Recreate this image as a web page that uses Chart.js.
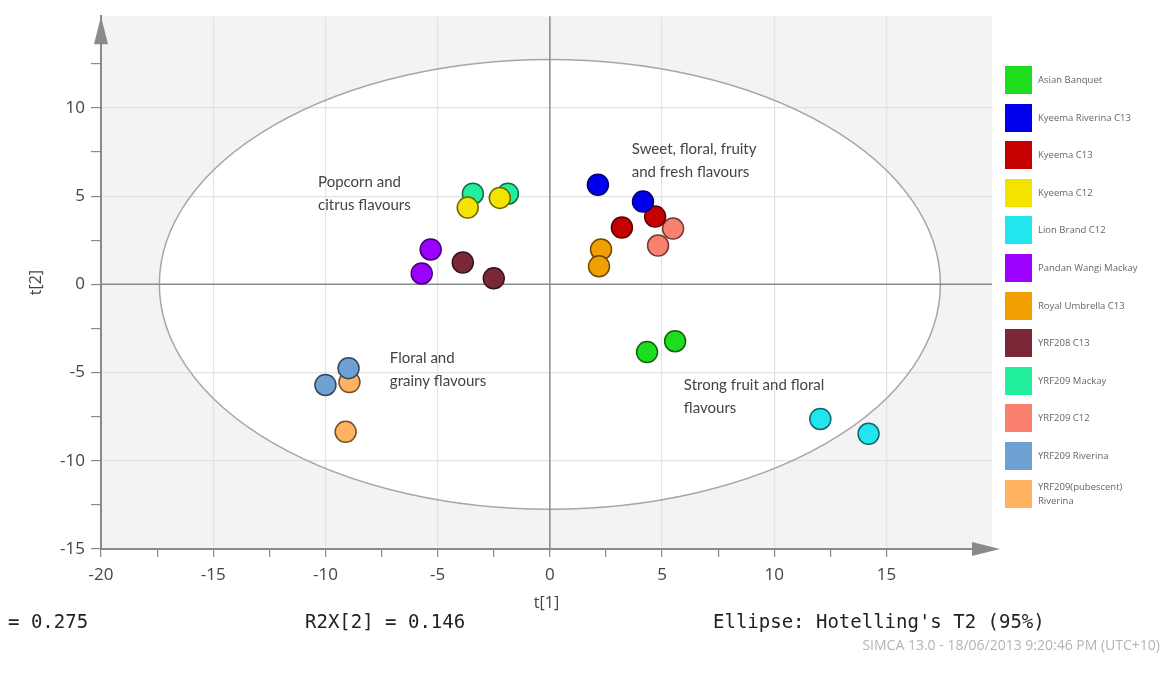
<!DOCTYPE html>
<html>
<head>
<meta charset="utf-8">
<script src="https://cdn.jsdelivr.net/npm/chart.js@4.4.1/dist/chart.umd.min.js"></script>
<style>
  body { margin: 0; background: #fff; }
  #wrap { position: relative; width: 1163px; height: 673px; overflow: hidden; }
  #scoreChart { position: absolute; left: 0; top: 0; }
  .foot { position: absolute; font-family: "DejaVu Sans Mono", monospace; font-size: 19px; line-height: 19px; color: #222; white-space: pre; }
  .stamp { position: absolute; right: 3px; top: 637px; font-family: "Open Sans", sans-serif; font-size: 14px; line-height: 16px; color: #b4b4b4; white-space: pre; }
  #legend { position: absolute; left: 1005px; top: 66px; }
  .item { position: absolute; left: 0; width: 160px; height: 28px; }
  .swatch { position: absolute; left: 0; top: 0; width: 27px; height: 28px; }
  .label { position: absolute; left: 33px; top: 0; height: 28px; display: flex; align-items: center;
           font-family: "Open Sans", sans-serif; font-size: 9.5px; line-height: 14px; color: #666; }
</style>
</head>
<body>
<div id="wrap">
  <canvas id="scoreChart" width="1163" height="673"></canvas>
  <div id="legend"></div>
  <div class="foot" style="left:8px; top:612px;">= 0.275</div>
  <div class="foot" style="left:305px; top:612px;">R2X[2] = 0.146</div>
  <div class="foot" style="left:713px; top:612px;">Ellipse: Hotelling's T2 (95%)</div>
  <div class="stamp">SIMCA 13.0 - 18/06/2013 9:20:46 PM (UTC+10)</div>
</div>
<script>
// score plot data: t[1] / t[2] per sample group
const groups = ['Asian Banquet', 'Kyeema Riverina C13', 'Kyeema C13', 'Kyeema C12', 'Lion Brand C12',
  'Pandan Wangi Mackay', 'Royal Umbrella C13', 'YRF208 C13', 'YRF209 Mackay', 'YRF209 C12',
  'YRF209 Riverina', 'YRF209(pubescent) Riverina'];
const t1Values = [
  [4.33, 5.58], [2.14, 4.15], [3.21, 4.69], [-3.66, -2.23], [12.05, 14.2],
  [-5.31, -5.71], [2.28, 2.19], [-3.88, -2.5], [-3.43, -1.87], [5.49, 4.82],
  [-8.97, -10.0], [-8.93, -9.1]
];
const t2Values = [
  [-3.84, -3.22], [5.65, 4.69], [3.22, 3.84], [4.35, 4.9], [-7.63, -8.47],
  [1.98, 0.62], [1.98, 1.02], [1.24, 0.34], [5.14, 5.14], [3.16, 2.2],
  [-4.75, -5.7], [-5.54, -8.36]
];
const groupColors = ['#1edc1e', '#0000ee', '#c40000', '#f2e400', '#22e6ef', '#9c00ff',
  '#f0a000', '#7a2838', '#22ef9c', '#fa8070', '#6fa2d2', '#ffb262'];

// axis ranges and the 95% Hotelling ellipse (semi axes in t units)
const t1Range = [-20, 19.7];
const t2Range = [-15, 15.2];
const ellipseT1 = 17.4;
const ellipseT2 = 12.75;

// annotation texts, anchored at their top-left line in t units
const noteLines = [
  ['Popcorn and', 'citrus flavours'],
  ['Sweet, floral, fruity', 'and fresh flavours'],
  ['Floral and', 'grainy flavours'],
  ['Strong fruit and floral', 'flavours']
];
const noteT1 = [-10.33, 3.65, -7.13, 5.97];
const noteT2 = [5.8, 7.65, -4.18, -5.7];

function shade(hex, f) {
  const n = parseInt(hex.slice(1), 16);
  const r = Math.round(((n >> 16) & 255) * f);
  const g = Math.round(((n >> 8) & 255) * f);
  const b = Math.round((n & 255) * f);
  return `rgb(${r},${g},${b})`;
}

// build the html legend
const legend = document.getElementById('legend');
groups.forEach((name, i) => {
  const item = document.createElement('div');
  item.className = 'item';
  item.style.top = (i * 37.6) + 'px';
  const label = name === 'YRF209(pubescent) Riverina' ? 'YRF209(pubescent)<br>Riverina' : name;
  item.innerHTML = `<div class="swatch" style="background:${groupColors[i]}"></div><div class="label">${label}</div>`;
  legend.appendChild(item);
});

const plotDecor = {
  id: 'plotDecor',
  beforeDraw(chart) {
    const { ctx, chartArea: a, scales: { x, y } } = chart;
    ctx.save();
    ctx.fillStyle = '#f3f3f3';
    ctx.fillRect(a.left, a.top, a.right - a.left, a.bottom - a.top);
    const cx = x.getPixelForValue(0), cy = y.getPixelForValue(0);
    ctx.beginPath();
    ctx.ellipse(cx, cy, x.getPixelForValue(ellipseT1) - cx, cy - y.getPixelForValue(ellipseT2), 0, 0, Math.PI * 2);
    ctx.fillStyle = '#ffffff';
    ctx.fill();
    ctx.restore();
  },
  beforeDatasetsDraw(chart) {
    const { ctx, chartArea: a, scales: { x, y } } = chart;
    const cx = x.getPixelForValue(0), cy = y.getPixelForValue(0);
    ctx.save();
    // ellipse outline
    ctx.beginPath();
    ctx.ellipse(cx, cy, x.getPixelForValue(ellipseT1) - cx, cy - y.getPixelForValue(ellipseT2), 0, 0, Math.PI * 2);
    ctx.strokeStyle = '#a6a6a6';
    ctx.lineWidth = 1.5;
    ctx.stroke();
    // zero lines
    ctx.strokeStyle = '#8a8a8a';
    ctx.lineWidth = 1.5;
    ctx.beginPath();
    ctx.moveTo(a.left, cy); ctx.lineTo(a.right, cy);
    ctx.moveTo(cx, a.top); ctx.lineTo(cx, a.bottom);
    ctx.stroke();
    // axis arrows
    ctx.fillStyle = '#8a8a8a';
    ctx.beginPath();
    ctx.moveTo(a.left, a.top); ctx.lineTo(a.left - 7, a.top + 28); ctx.lineTo(a.left + 7, a.top + 28);
    ctx.closePath(); ctx.fill();
    ctx.beginPath();
    ctx.moveTo(a.right + 8, a.bottom); ctx.lineTo(a.right - 20, a.bottom - 7); ctx.lineTo(a.right - 20, a.bottom + 7);
    ctx.closePath(); ctx.fill();
    ctx.restore();
  },
  afterDatasetsDraw(chart) {
    const { ctx, scales: { x, y } } = chart;
    ctx.save();
    ctx.font = '15px Lato, "Open Sans", sans-serif';
    ctx.fillStyle = '#444';
    ctx.textBaseline = 'middle';
    noteLines.forEach((lines, i) => {
      const px = x.getPixelForValue(noteT1[i]);
      const py = y.getPixelForValue(noteT2[i]);
      lines.forEach((line, k) => ctx.fillText(line, px, py + k * 23));
    });
    ctx.restore();
  }
};

function keepSteps(limit) {
  return scale => {
    scale.ticks = scale.ticks.filter(t => Math.abs(t.value / 2.5 - Math.round(t.value / 2.5)) < 1e-6 && t.value <= limit);
  };
}
const gridColor = c => (c.tick && c.tick.value % 5 === 0 && c.tick.value !== 0) ? '#e2e2e2' : 'rgba(0,0,0,0)';
const tickFont = { family: '"Open Sans", sans-serif', size: 17 };

new Chart(document.getElementById('scoreChart'), {
  type: 'scatter',
  data: {
    datasets: groups.map((name, i) => ({
      label: name,
      data: t1Values[i].map((v, k) => ({ x: v, y: t2Values[i][k] })),
      backgroundColor: groupColors[i],
      borderColor: shade(groupColors[i], 0.45),
      borderWidth: 1.5,
      pointRadius: 10.5,
      pointHoverRadius: 10.5
    }))
  },
  options: {
    responsive: false,
    animation: false,
    layout: { padding: { top: 14, right: 171, left: 0, bottom: 0 } },
    plugins: { legend: { display: false }, tooltip: { enabled: false } },
    scales: {
      x: {
        type: 'linear',
        min: t1Range[0],
        max: t1Range[1],
        afterFit: s => { s.height = 124; },
        afterBuildTicks: keepSteps(17.5),
        border: { color: '#8a8a8a', width: 2 },
        grid: { color: gridColor, tickColor: '#8a8a8a', tickLength: 8, lineWidth: 1.2 },
        ticks: { stepSize: 2.5, autoSkip: false, maxRotation: 0, padding: 8, color: '#444', font: tickFont,
                 callback: v => (v % 5 === 0 ? v : '') },
        title: { display: true, text: 't[1]', color: '#444', font: { family: '"Open Sans", sans-serif', size: 16 },
                 padding: { top: 0, bottom: 60 } }
      },
      y: {
        type: 'linear',
        min: t2Range[0],
        max: t2Range[1],
        afterFit: s => { s.width = 101; },
        afterBuildTicks: keepSteps(12.5),
        border: { color: '#8a8a8a', width: 2 },
        grid: { color: gridColor, tickColor: '#8a8a8a', tickLength: 10, lineWidth: 1.2 },
        ticks: { stepSize: 2.5, autoSkip: false, padding: 6, color: '#444', font: tickFont,
                 callback: v => (v % 5 === 0 ? v : '') },
        title: { display: true, text: 't[2]', color: '#444', font: { family: '"Open Sans", sans-serif', size: 16 },
                 padding: { top: 27, bottom: 0 } }
      }
    }
  },
  plugins: [plotDecor]
});
</script>
</body>
</html>
